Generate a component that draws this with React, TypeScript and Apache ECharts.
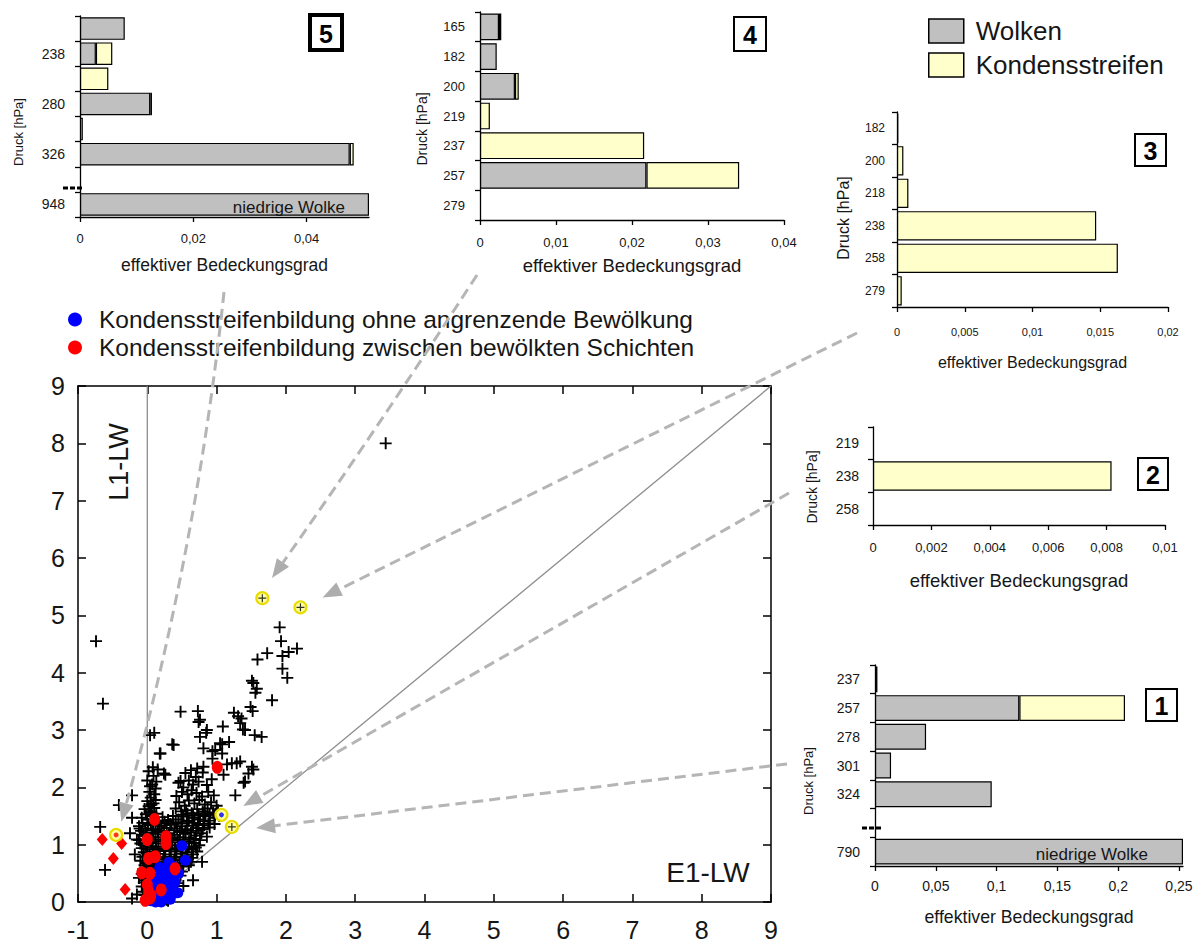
import React, { useEffect, useRef } from "react";
import * as echarts from "echarts";

const FONT = "'Liberation Sans', Arial, Helvetica, sans-serif";
const TXT = "#161616";

// ---------------- main scatter data (E1-LW vs L1-LW) ----------------
const blueName = "Kondensstreifenbildung ohne angrenzende Bewölkung";
const redName = "Kondensstreifenbildung zwischen bewölkten Schichten";

const plusOuter: number[][] = [
  [3.44, 8.0], [-0.74, 4.55], [-0.64, 3.46], [1.91, 4.79], [1.93, 4.55], [1.73, 4.34], [1.59, 4.23],
  [2.16, 4.42], [2.04, 4.36], [1.95, 4.29], [1.95, 4.07], [2.02, 3.91], [1.51, 3.86], [1.58, 3.72],
  [1.56, 3.65], [1.8, 3.52], [1.49, 3.4], [1.52, 3.33], [1.25, 3.3], [1.31, 3.24], [1.36, 3.2],
  [0.48, 3.32], [0.73, 3.33], [0.74, 3.14], [1.09, 3.06], [0.85, 2.95], [0.76, 2.88], [0.1, 2.95],
  [0.36, 2.75], [0.18, 2.59], [1.55, 2.91], [1.65, 2.88], [1.38, 3.01], [1.08, 2.75], [0.94, 2.63],
  [1.08, 2.59], [1.18, 2.79], [0.94, 2.5], [1.29, 2.42], [1.53, 2.31], [1.46, 2.24], [1.39, 2.08],
  [1.27, 1.86], [0.76, 3.18], [0.86, 3.0], [0.81, 2.68], [0.98, 2.65], [1.05, 2.77], [1.34, 3.12],
  [1.53, 3.82], [1.41, 3.0], [1.22, 2.42], [1.34, 2.45], [1.51, 2.36], [1.1, 2.22], [1.41, 2.1],
  [0.72, 2.33], [0.81, 2.36], [0.04, 2.91], [0.19, 2.59], [0.38, 2.74], [-0.22, 1.86], [-0.41, 1.69],
  [-0.68, 1.31], [-0.61, 0.56], [-0.25, 1.2], [-0.11, 1.28], [-0.15, 1.09], [-0.18, 0.83],
  [-0.22, 0.06], [-0.15, 0.13], [-0.22, 1.47], [1.15, 2.4], [0.24, 2.24], [0.48, 2.11],
];

const plusCore: number[][] = [
  [0.02, 2.28], [0.09, 2.2], [0.15, 2.31], [0.26, 2.22], [0.55, 2.25], [0.63, 2.3], [0.7, 2.18], [0.8, 2.26],
  [0.0, 2.12], [0.07, 2.05], [0.13, 2.1], [0.45, 2.08], [0.52, 2.0], [0.6, 2.12], [0.66, 2.05], [0.74, 2.1],
  [0.86, 2.04], [0.93, 2.14], [0.03, 1.92], [0.1, 1.88], [0.42, 1.85], [0.5, 1.92], [0.58, 1.88], [0.64, 1.95],
  [0.71, 1.9], [0.79, 1.84], [0.88, 1.92], [0.96, 1.86], [0.0, 1.76], [0.06, 1.7], [0.12, 1.78], [0.46, 1.74],
  [0.54, 1.68], [0.6, 1.77], [0.68, 1.72], [0.75, 1.78], [0.83, 1.7], [0.92, 1.74], [1.0, 1.68], [-0.04, 1.62],
  [0.04, 1.58], [0.1, 1.64], [0.41, 1.63], [0.49, 1.58], [0.56, 1.6], [0.64, 1.55], [0.72, 1.62], [0.8, 1.58],
  [0.87, 1.63], [0.95, 1.56], [1.02, 1.6], [-0.08, 1.47], [0.0, 1.44], [0.07, 1.5], [0.14, 1.42], [0.22, 1.48],
  [0.3, 1.43], [0.37, 1.5], [0.45, 1.44], [0.52, 1.49], [0.6, 1.42], [0.68, 1.47], [0.76, 1.44], [0.84, 1.5],
  [0.9, 1.42], [0.97, 1.47], [1.04, 1.5], [-0.12, 1.32], [-0.03, 1.28], [0.05, 1.34], [0.12, 1.27], [0.2, 1.33],
  [0.28, 1.29], [0.35, 1.35], [0.43, 1.28], [0.5, 1.32], [0.58, 1.27], [0.66, 1.33], [0.74, 1.29], [0.82, 1.34],
  [0.9, 1.3], [0.97, 1.36], [-0.06, 1.17], [0.02, 1.12], [0.09, 1.19], [0.16, 1.13], [0.24, 1.18], [0.32, 1.12],
  [0.39, 1.17], [0.47, 1.13], [0.55, 1.19], [0.62, 1.12], [0.7, 1.16], [0.78, 1.2], [0.86, 1.14], [-0.1, 1.02],
  [-0.02, 0.98], [0.06, 1.03], [0.13, 0.97], [0.21, 1.02], [0.29, 0.98], [0.36, 1.04], [0.44, 0.99], [0.52, 1.02],
  [0.6, 0.97], [0.67, 1.03], [0.75, 0.99], [-0.05, 0.87], [0.03, 0.83], [0.1, 0.88], [0.18, 0.84], [0.26, 0.89],
  [0.34, 0.83], [0.42, 0.88], [0.5, 0.84], [0.58, 0.87], [0.66, 0.83], [0.72, 0.88], [-0.1, 0.72], [-0.01, 0.68],
  [0.07, 0.73], [0.15, 0.69], [0.23, 0.74], [0.31, 0.7], [0.39, 0.73], [0.47, 0.68], [0.55, 0.72], [0.63, 0.7],
  [0.79, 0.7], [-0.06, 0.57], [0.02, 0.53], [0.1, 0.58], [0.18, 0.54], [0.26, 0.57], [0.34, 0.52], [0.42, 0.56],
  [0.5, 0.53], [-0.12, 0.42], [-0.03, 0.38], [0.05, 0.43], [0.13, 0.39], [0.21, 0.42], [0.29, 0.37], [0.37, 0.41],
  [0.66, 0.38], [-0.08, 0.27], [0.0, 0.23], [0.08, 0.28], [0.16, 0.24], [0.24, 0.27], [0.52, 0.28], [0.36, 0.21],
  [-0.04, 0.12], [0.04, 0.08], [0.12, 0.13], [0.2, 0.09], [0.28, 0.04], [0.28, 0.1], [0.3, 0.02],
  [-0.07, 1.38], [0.01, 1.36], [0.09, 1.39], [0.17, 1.37], [0.25, 1.4], [0.33, 1.36], [0.41, 1.39], [0.49, 1.37],
  [0.57, 1.4], [0.65, 1.38], [0.73, 1.36], [0.81, 1.41], [0.88, 1.37], [-0.09, 1.24], [-0.01, 1.21], [0.07, 1.25],
  [0.15, 1.22], [0.23, 1.24], [0.31, 1.2], [0.39, 1.25], [0.47, 1.22], [0.55, 1.24], [0.63, 1.21], [0.71, 1.24],
  [0.8, 1.27], [-0.12, 1.08], [-0.04, 1.07], [0.04, 1.09], [0.12, 1.06], [0.2, 1.09], [0.28, 1.06], [0.36, 1.1],
  [0.44, 1.07], [0.52, 1.09], [0.6, 1.06], [0.68, 1.1], [0.76, 1.08], [-0.08, 0.94], [0.0, 0.92], [0.08, 0.95],
  [0.16, 0.92], [0.24, 0.94], [0.32, 0.91], [0.4, 0.94], [0.48, 0.92], [0.56, 0.94], [0.64, 0.92], [0.7, 0.95],
  [-0.07, 0.79], [0.01, 0.77], [0.09, 0.8], [0.17, 0.77], [0.25, 0.79], [0.33, 0.76], [0.41, 0.79], [0.49, 0.77],
  [0.57, 0.8], [0.65, 0.77], [-0.04, 0.64], [0.04, 0.62], [0.12, 0.65], [0.2, 0.62], [0.28, 0.65], [0.36, 0.62],
  [0.44, 0.64], [0.52, 0.62], [0.6, 0.64], [-0.08, 0.49], [0.0, 0.47], [0.08, 0.5], [0.16, 0.47], [0.24, 0.49],
  [0.32, 0.46], [0.4, 0.48], [0.48, 0.46], [-0.05, 0.34], [0.03, 0.32], [0.11, 0.35], [0.19, 0.32], [0.27, 0.34],
  [0.35, 0.31], [0.43, 0.33], [-0.06, 0.18], [0.02, 0.16], [0.1, 0.19], [0.18, 0.16], [0.26, 0.18],
  [-0.02, 1.53], [0.06, 1.56], [0.13, 1.54], [0.02, 1.67], [0.09, 1.72], [0.5, 1.52], [0.58, 1.54], [0.66, 1.51],
  [0.74, 1.53], [0.82, 1.55], [0.9, 1.52], [0.98, 1.54], [0.05, 1.82], [0.12, 1.98], [0.04, 2.02], [0.08, 2.35],
];

const bluePoints: number[][] = [
  [0.05, 0.02], [0.1, 0.05], [0.15, 0.1], [0.2, 0.05], [0.12, 0.2], [0.2, 0.25], [0.25, 0.3], [0.3, 0.35],
  [0.22, 0.4], [0.3, 0.5], [0.35, 0.45], [0.4, 0.55], [0.28, 0.6], [0.31, 0.69], [0.15, 0.3], [0.1, 0.15],
  [0.18, 0.45], [0.25, 0.15], [0.08, 0.35], [0.4, 0.35], [0.45, 0.5], [0.5, 0.98], [0.55, 0.73], [0.44, 0.16],
  [0.3, 0.2], [0.35, 0.25], [0.12, 0.0], [0.2, 0.0], [0.38, 0.62], [0.25, 0.5], [0.18, 0.6], [0.33, 0.05],
  [0.38, 0.15],
];

const redPoints: number[][] = [
  [1.01, 2.35], [0.105, 1.44], [0.27, 1.14], [0.27, 1.02], [0.0, 1.09], [0.02, 0.76], [0.115, 0.79],
  [-0.08, 0.51], [0.04, 0.5], [0.4, 0.58], [0.2, 0.21], [0.02, 0.18], [-0.03, 0.03], [0.04, 0.07],
  [0.0, 0.3], [0.05, 0.12],
];

const redDiamonds: number[][] = [[-0.65, 1.09], [-0.37, 1.02], [-0.49, 0.76], [-0.32, 0.22]];

const ringedPlus: number[][] = [[1.66, 5.3], [2.21, 5.14], [1.22, 1.31]];
const ringedBlue: number[][] = [[1.07, 1.52]];
const ringedRed: number[][] = [[-0.45, 1.17]];

const diagonalLine: number[][] = [[0, 0], [9, 9]];
const zeroLine: number[][] = [[0, 0], [0, 9]];

// ---------------- inset bar panels (effektiver Bedeckungsgrad) ----------------
// Panel 5
const p5Levels = ["", "238", "", "280", "", "326", "", "948"];
const p5Wolken = [0.0079, 0.0028, null, 0.0124, null, 0.0476, null, 0.051];
const p5Kond = [null, 0.0029, 0.005, 0.0003, 0.0005, 0.0007, null, null];
// Panel 4
const p4Levels = ["165", "182", "200", "219", "237", "257", "279"];
const p4Wolken = [0.0025, 0.0022, 0.0046, null, null, 0.0219, null];
const p4Kond = [0.0003, null, 0.0005, 0.0013, 0.0216, 0.0122, null];
// Panel 3
const p3Levels = ["182", "200", "218", "238", "258", "279"];
const p3Wolken = [null, null, null, null, null, null];
const p3Kond = [0.0001, 0.00047, 0.00084, 0.0147, 0.0163, 0.00035];
// Panel 2
const p2Levels = ["219", "238", "258"];
const p2Wolken = [null, null, null];
const p2Kond = [null, 0.00817, null];
// Panel 1
const p1Levels = ["237", "257", "278", "301", "324", "", "790"];
const p1Wolken = [0.002, 0.1187, 0.042, 0.0132, 0.096, null, 0.2533];
const p1Kond = [null, 0.0869, null, null, null, null, null];

const p5Ticks = [0, 0.02, 0.04];
const p4Ticks = [0, 0.01, 0.02, 0.03, 0.04];
const p3Ticks = [0, 0.005, 0.01, 0.015, 0.02];
const p2Ticks = [0, 0.002, 0.004, 0.006, 0.008, 0.01];
const p1Ticks = [0, 0.05, 0.1, 0.15, 0.2, 0.25];

const lowCloudLabel = "niedrige Wolke";

type Panel = {
  no: string;
  levels: string[];
  wolken: (number | null)[];
  kond: (number | null)[];
  ticks: number[];
  max: number;
  low: number;
  l: number; t: number; r: number; b: number;
  yFont: number; xFont: number; yMargin: number; xMargin: number;
  nameFont: number; nameGap: number;
  druck: { x: number; y: number; size: number };
  box: { x: number; y: number; w: number; h: number; lw: number };
  lowOffset: number;
  brk?: { x: number; y: number };
};

const panels: Panel[] = [
  {
    no: "5", levels: p5Levels, wolken: p5Wolken, kond: p5Kond, ticks: p5Ticks, max: 0.051, low: 7,
    l: 80, t: 16, r: 369, b: 217, yFont: 14, xFont: 13, yMargin: 15, xMargin: 15, nameFont: 17.5, nameGap: 48,
    druck: { x: 18, y: 132, size: 13 }, box: { x: 308, y: 13, w: 36, h: 39, lw: 4 }, lowOffset: -19,
    brk: { x: 63, y: 188 },
  },
  {
    no: "4", levels: p4Levels, wolken: p4Wolken, kond: p4Kond, ticks: p4Ticks, max: 0.04, low: -1,
    l: 480, t: 12, r: 784, b: 220, yFont: 13, xFont: 13, yMargin: 15, xMargin: 16, nameFont: 18.5, nameGap: 45,
    druck: { x: 422, y: 129, size: 14 }, box: { x: 733, y: 16, w: 34, h: 36, lw: 2 }, lowOffset: 0,
  },
  {
    no: "3", levels: p3Levels, wolken: p3Wolken, kond: p3Kond, ticks: p3Ticks, max: 0.02, low: -1,
    l: 897, t: 112, r: 1168, b: 307, yFont: 12, xFont: 11, yMargin: 12, xMargin: 19, nameFont: 16, nameGap: 55,
    druck: { x: 843, y: 218, size: 16 }, box: { x: 1134, y: 133, w: 33, h: 34, lw: 2 }, lowOffset: 0,
  },
  {
    no: "2", levels: p2Levels, wolken: p2Wolken, kond: p2Kond, ticks: p2Ticks, max: 0.01, low: -1,
    l: 873, t: 427, r: 1165, b: 525, yFont: 14, xFont: 13, yMargin: 14, xMargin: 16, nameFont: 18.5, nameGap: 55,
    druck: { x: 812, y: 487, size: 14 }, box: { x: 1137, y: 457, w: 32, h: 34, lw: 2 }, lowOffset: 0,
  },
  {
    no: "1", levels: p1Levels, wolken: p1Wolken, kond: p1Kond, ticks: p1Ticks, max: 0.2533, low: 6,
    l: 875, t: 665, r: 1183, b: 866, yFont: 14, xFont: 14, yMargin: 15, xMargin: 13, nameFont: 17.7, nameGap: 51,
    druck: { x: 808, y: 781, size: 13 }, box: { x: 1145, y: 688, w: 33, h: 34, lw: 2 }, lowOffset: -30,
    brk: { x: 862, y: 828 },
  },
];

const fmtComma = (v: number) => String(Number(v.toPrecision(6))).replace(".", ",");

function buildOption() {
  const grids: any[] = [{ left: 78, top: 386, width: 693, height: 516 }];
  const axisLineMain = { onZero: false, lineStyle: { color: "#000", width: 1.5 } };
  const tickMain = { inside: true, length: 8, lineStyle: { color: "#000", width: 1.5 } };
  const xAxes: any[] = [
    {
      type: "value", gridIndex: 0, min: -1, max: 9, interval: 1, position: "bottom",
      axisLine: axisLineMain, axisTick: tickMain, splitLine: { show: false },
      axisLabel: { fontSize: 25, color: TXT, margin: 15, fontFamily: FONT },
    },
    {
      type: "value", gridIndex: 0, min: -1, max: 9, interval: 1, position: "top",
      axisLine: axisLineMain, axisTick: tickMain, splitLine: { show: false }, axisLabel: { show: false },
    },
  ];
  const yAxes: any[] = [
    {
      type: "value", gridIndex: 0, min: 0, max: 9, interval: 1, position: "left",
      axisLine: axisLineMain, axisTick: tickMain, splitLine: { show: false },
      axisLabel: { fontSize: 25, color: TXT, margin: 13, fontFamily: FONT },
    },
    {
      type: "value", gridIndex: 0, min: 0, max: 9, interval: 1, position: "right",
      axisLine: axisLineMain, axisTick: tickMain, splitLine: { show: false }, axisLabel: { show: false },
    },
  ];

  const plusSymbol = "path://M5,0L5,10M0,5L10,5";
  const series: any[] = [
    {
      type: "line", xAxisIndex: 0, yAxisIndex: 0, data: zeroLine, symbol: "none", silent: true, z: 1,
      lineStyle: { color: "#8d8d8d", width: 1.3 },
    },
    {
      type: "line", xAxisIndex: 0, yAxisIndex: 0, data: diagonalLine, symbol: "none", silent: true, z: 1,
      lineStyle: { color: "#8d8d8d", width: 1.3 },
    },
    {
      type: "scatter", name: "E1-LW / L1-LW", xAxisIndex: 0, yAxisIndex: 0, data: plusOuter.concat(plusCore),
      symbol: plusSymbol, symbolSize: 12, silent: true,
      itemStyle: { color: "#000", borderColor: "#000", borderWidth: 1.9, opacity: 1 },
    },
    {
      type: "scatter", name: blueName, xAxisIndex: 0, yAxisIndex: 0, data: bluePoints,
      symbol: "circle", symbolSize: 11, itemStyle: { color: "#0000ff", opacity: 1 },
    },
    {
      type: "scatter", name: redName, xAxisIndex: 0, yAxisIndex: 0, data: redPoints,
      symbol: "circle", symbolSize: [11, 13], itemStyle: { color: "#ff0000", opacity: 1 },
    },
    {
      type: "scatter", name: redName, xAxisIndex: 0, yAxisIndex: 0, data: redDiamonds,
      symbol: "diamond", symbolSize: [11, 13], itemStyle: { color: "#ff0000", opacity: 1 },
    },
    {
      type: "scatter", name: "markiert", xAxisIndex: 0, yAxisIndex: 0,
      data: ringedPlus.concat(ringedBlue, ringedRed),
      symbol: "circle", symbolSize: 12, z: 3,
      itemStyle: { color: "#ffffa0", borderColor: "#e8dc00", borderWidth: 2.2, opacity: 1 },
    },
    {
      type: "scatter", name: "markiert+", xAxisIndex: 0, yAxisIndex: 0, data: ringedPlus, z: 4,
      symbol: plusSymbol, symbolSize: 8, itemStyle: { color: "#000", borderColor: "#000", borderWidth: 1.2 },
    },
    {
      type: "scatter", name: "markiert-b", xAxisIndex: 0, yAxisIndex: 0, data: ringedBlue, z: 4,
      symbol: "circle", symbolSize: 5, itemStyle: { color: "#0000ff" },
    },
    {
      type: "scatter", name: "markiert-r", xAxisIndex: 0, yAxisIndex: 0, data: ringedRed, z: 4,
      symbol: "circle", symbolSize: 5, itemStyle: { color: "#ff0000" },
    },
  ];

  panels.forEach((p, i) => {
    const gi = i + 1;
    const ai = i + 2;
    grids.push({ left: p.l, top: p.t, width: p.r - p.l, height: p.b - p.t });
    xAxes.push({
      type: "value", gridIndex: gi, min: 0, max: p.max, position: "bottom",
      axisLine: { show: true, onZero: false, lineStyle: { color: "#000", width: 1.3 } },
      axisTick: { show: true, length: 5, lineStyle: { color: "#000", width: 1.3 }, customValues: p.ticks },
      splitLine: { show: false },
      axisLabel: {
        fontSize: p.xFont, color: TXT, margin: p.xMargin, fontFamily: FONT,
        customValues: p.ticks, formatter: (v: number) => fmtComma(v),
      },
      name: "effektiver Bedeckungsgrad", nameLocation: "middle", nameGap: p.nameGap,
      nameTextStyle: { fontSize: p.nameFont, color: TXT, verticalAlign: "middle", fontFamily: FONT },
    });
    yAxes.push({
      type: "category", gridIndex: gi, inverse: true, data: p.levels, position: "left",
      axisLine: { show: true, onZero: false, lineStyle: { color: "#000", width: 1.3 } },
      axisTick: { show: true, length: 5, lineStyle: { color: "#000", width: 1.3 } },
      axisLabel: { fontSize: p.yFont, color: TXT, margin: p.yMargin, fontFamily: FONT, interval: 0 },
      splitLine: { show: false },
    });
    const wData = p.wolken.map((v, k) =>
      k === p.low && v != null
        ? {
            value: v,
            label: {
              show: true, position: "insideRight", formatter: lowCloudLabel, fontSize: 17, color: TXT,
              fontFamily: FONT, offset: [p.lowOffset, 3],
            },
          }
        : v
    );
    series.push({
      type: "bar", name: "Wolken", xAxisIndex: ai, yAxisIndex: ai, stack: "s" + gi, data: wData,
      barCategoryGap: "10%", itemStyle: { color: "#c0c0c0", borderColor: "#000", borderWidth: 1.2 },
    });
    series.push({
      type: "bar", name: "Kondensstreifen", xAxisIndex: ai, yAxisIndex: ai, stack: "s" + gi, data: p.kond,
      barCategoryGap: "10%", itemStyle: { color: "#ffffcc", borderColor: "#000", borderWidth: 1.2 },
    });
  });

  return {
    animation: false,
    backgroundColor: "#fff",
    textStyle: { fontFamily: FONT },
    grid: grids,
    xAxis: xAxes,
    yAxis: yAxes,
    legend: [
      {
        data: ["Wolken", "Kondensstreifen"], orient: "vertical", left: 923, top: 13, icon: "rect",
        itemWidth: 35, itemHeight: 24, itemGap: 8, selectedMode: false,
        itemStyle: { borderColor: "#000", borderWidth: 1.5 },
        textStyle: { fontSize: 26, color: TXT, padding: [0, 0, 0, 7], fontFamily: FONT },
      },
      {
        data: [blueName, redName], orient: "vertical", left: 63, top: 302, icon: "circle",
        itemWidth: 14, itemHeight: 14, itemGap: 3, selectedMode: false,
        itemStyle: { borderWidth: 0 },
        textStyle: { fontSize: 24.5, color: TXT, padding: [0, 0, 0, 12], fontFamily: FONT },
      },
    ],
    series,
  };
}

type Pt = number[];

function arrowElems(tail: Pt, tip: Pt, ctrl?: Pt) {
  const from = ctrl || tail;
  const dx = tip[0] - from[0];
  const dy = tip[1] - from[1];
  const len = Math.hypot(dx, dy);
  const ux = dx / len, uy = dy / len;
  const L = 19, W = 7.5;
  const base = [tip[0] - ux * L, tip[1] - uy * L];
  const nx = -uy, ny = ux;
  const lineStyle = { stroke: "#b5b5b5", lineWidth: 3, lineDash: [11, 6], fill: null };
  const line = ctrl
    ? {
        type: "bezierCurve", z: 50, silent: true,
        shape: { x1: tail[0], y1: tail[1], x2: base[0], y2: base[1], cpx1: ctrl[0], cpy1: ctrl[1] },
        style: lineStyle,
      }
    : {
        type: "line", z: 50, silent: true,
        shape: { x1: tail[0], y1: tail[1], x2: base[0], y2: base[1] },
        style: lineStyle,
      };
  const head = {
    type: "polygon", z: 51, silent: true,
    shape: {
      points: [
        [tip[0], tip[1]],
        [base[0] + nx * W, base[1] + ny * W],
        [base[0] - nx * W, base[1] - ny * W],
      ],
    },
    style: { fill: "#adadad", stroke: null },
  };
  return [line, head];
}

function textEl(text: string, x: number, y: number, size: number, opts: any = {}) {
  return {
    type: "text", x, y, z: 60, silent: true, rotation: opts.rotation || 0,
    style: {
      text, fontSize: size, fontFamily: FONT, fontWeight: opts.bold ? "bold" : "normal",
      fill: opts.color || TXT, align: "center", verticalAlign: "middle",
      textAlign: "center", textVerticalAlign: "middle",
    },
  };
}

export default function App() {
  const ref = useRef<HTMLDivElement>(null);
  useEffect(() => {
    if (!ref.current) return;
    const chart = echarts.init(ref.current, undefined, { renderer: "svg" });
    chart.setOption(buildOption() as any);

    const px = (d: number[]) => chart.convertToPixel({ xAxisIndex: 0, yAxisIndex: 0 }, d) as number[];
    const elems: any[] = [];

    elems.push(...arrowElems([224, 292], px([-0.375, 1.4]), [197, 549]));
    elems.push(...arrowElems([477, 275], px([1.8, 5.65]), [381, 423]));
    elems.push(...arrowElems([857, 333], px([2.53, 5.31])));
    elems.push(...arrowElems([789, 493], px([1.385, 1.675])));
    elems.push(...arrowElems([787, 764], px([1.57, 1.29])));

    elems.push(textEl("L1-LW", 119, 462, 27, { rotation: Math.PI / 2 }));
    elems.push(textEl("E1-LW", 708, 872, 28));

    panels.forEach((p) => {
      elems.push(textEl("Druck [hPa]", p.druck.x, p.druck.y, p.druck.size, { rotation: Math.PI / 2 }));
      elems.push({
        type: "rect", z: 55, silent: true,
        shape: { x: p.box.x + p.box.lw / 2, y: p.box.y + p.box.lw / 2, width: p.box.w - p.box.lw, height: p.box.h - p.box.lw },
        style: { fill: "#fff", stroke: "#000", lineWidth: p.box.lw },
      });
      elems.push(textEl(p.no, p.box.x + p.box.w / 2, p.box.y + p.box.h / 2 + 1, 25, { bold: true, color: "#000" }));
      if (p.brk) {
        elems.push({
          type: "line", z: 55, silent: true,
          shape: { x1: p.brk.x, y1: p.brk.y, x2: p.brk.x + 20, y2: p.brk.y },
          style: { stroke: "#000", lineWidth: 3, lineDash: [5, 2] },
        });
      }
    });

    chart.setOption({ graphic: { elements: elems } } as any);
    return () => chart.dispose();
  }, []);
  return (
    <div
      ref={ref}
      style={{ position: "fixed", left: 0, top: 0, width: 1197, height: 945, background: "#fff" }}
    />
  );
}
